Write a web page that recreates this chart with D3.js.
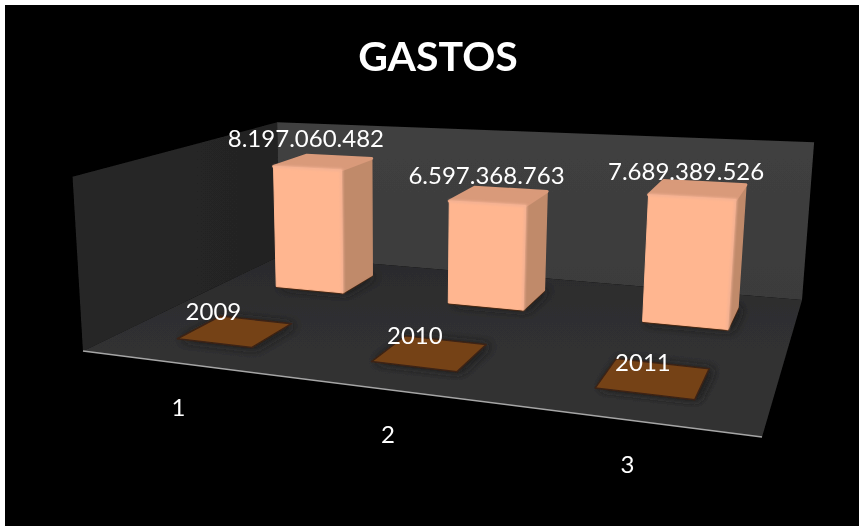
<!DOCTYPE html>
<html><head><meta charset="utf-8">
<style>html,body{margin:0;background:#000}svg{display:block}text{font-family:Lato,sans-serif;fill:#fff}</style>
<script src="https://cdn.jsdelivr.net/npm/d3@7"></script></head><body>
<script>
// ---- data ----
const title = "GASTOS";
const categories = [1, 2, 3];
const seriesNames = ["Año", "Gastos"];
const years = [2009, 2010, 2011];
const gastos = [8197060482, 6597368763, 7689389526];
const axisMax = 10000000000;
const fmt = v => d3.format(",")(v).replace(/,/g, ".");

// ---- layout ----
const W = 859, H = 526;
const floorCorners = [[83,351],[762,437],[802,300],[280,256]];
const topCorners = [[0,0,70,177],[0,1,280,119],[1,1,813,146]];
const valueNudge = [[-17.5,-23],[-12.5,-20],[-12,-18]];
const yearNudge = [[-22,-19],[-15,-17],[-10.5,-15]];
const catNudge = [[-57,77],[-42,82],[-26,87]];

function solve(A,b){const n=b.length;const M=A.map((r,i)=>[...r,b[i]]);
  for(let i=0;i<n;i++){let p=i;for(let k=i+1;k<n;k++)if(Math.abs(M[k][i])>Math.abs(M[p][i]))p=k;
    [M[i],M[p]]=[M[p],M[i]];
    for(let k=0;k<n;k++)if(k!=i){const f=M[k][i]/M[i][i];for(let j=i;j<=n;j++)M[k][j]-=f*M[i][j];}}
  return M.map((r,i)=>r[n]/r[i]);}
const A0=[],b0=[];
[[0,0],[1,0],[1,1],[0,1]].forEach(([u,v],i)=>{const[x,y]=floorCorners[i];
  A0.push([u,v,1,0,0,0,-u*x,-v*x]);b0.push(x);A0.push([0,0,0,u,v,1,-u*y,-v*y]);b0.push(y);});
const h=solve(A0,b0);
const B=[],c=[];
topCorners.forEach(([u,v,X,Y])=>{const hx=h[0]*u+h[1]*v+h[2],hy=h[3]*u+h[4]*v+h[5],hw=h[6]*u+h[7]*v+1;
  B.push([1,0,-X]);c.push(X*hw-hx);B.push([0,1,-Y]);c.push(Y*hw-hy);});
const Z=solve([0,1,2].map(i=>[0,1,2].map(j=>B.reduce((a,r)=>a+r[i]*r[j],0))),[0,1,2].map(i=>B.reduce((a,r,k)=>a+r[i]*c[k],0)));
function P(u,v,z){const w=h[6]*u+h[7]*v+1+Z[2]*z;
  return [(h[0]*u+h[1]*v+h[2]+Z[0]*z)/w,(h[3]*u+h[4]*v+h[5]+Z[1]*z)/w];}

const xS=d3.scaleBand().domain(categories).range([.004,1.004]).paddingInner(.6).paddingOuter(.3);
const dS=d3.scaleBand().domain(seriesNames).range([.004,1.03]).paddingInner(.6).paddingOuter(.3);
const yS=d3.scaleLinear().domain([0,axisMax]).range([0,1]);
const line=d3.line().curve(d3.curveLinearClosed);

const svg=d3.select("body").append("svg").attr("width",W).attr("height",H);
const defs=svg.append("defs");
[["soft",.45],["edge",.8],["shadow",5]].forEach(([id,s])=>defs.append("filter").attr("id",id)
  .attr("x","-30%").attr("y","-30%").attr("width","160%").attr("height","160%")
  .append("feGaussianBlur").attr("stdDeviation",s));
const grad=(id,x2,y2,stops)=>{const g=defs.append("linearGradient").attr("id",id).attr("x1",0).attr("y1",0).attr("x2",x2).attr("y2",y2);
  stops.forEach(([o,col])=>g.append("stop").attr("offset",o).attr("stop-color",col));};
grad("gLeft",1,0,[[0,"#282828"],[1,"#232323"]]);
grad("gBack",0,1,[[0,"#404040"],[1,"#3b3b3b"]]);
grad("gFloor",0,1,[[0,"#2b2b2c"],[.35,"#2f2f30"],[1,"#333333"]]);

svg.append("rect").attr("width",W).attr("height",H).attr("fill","#000");
svg.append("rect").attr("width",W).attr("height",5).attr("fill","#fff");
svg.append("rect").attr("width",5).attr("height",H).attr("fill","#fff");

const g=svg.append("g").attr("filter","url(#soft)");
g.append("path").attr("d",line([P(0,0,0),P(0,1,0),P(0,1,1),P(0,0,1)])).attr("fill","url(#gLeft)");
g.append("path").attr("d",line([P(0,1,0),P(1,1,0),P(1,1,1),P(0,1,1)])).attr("fill","url(#gBack)");
g.append("path").attr("d",line([P(0,0,0),P(1,0,0),P(1,1,0),P(0,1,0)])).attr("fill","url(#gFloor)");
g.append("path").attr("d",d3.line()([P(0,0,0),P(1,0,0)])).attr("stroke","#a6a6a6").attr("stroke-width",1.5).attr("fill","none");

function box(cat,serie,val){const u0=xS(cat),u1=u0+xS.bandwidth(),v0=dS(serie),v1=v0+dS.bandwidth(),z=yS(val);
  return {base:[P(u0,v0,0),P(u1,v0,0),P(u1,v1,0),P(u0,v1,0)],
    front:[P(u0,v0,0),P(u1,v0,0),P(u1,v0,z),P(u0,v0,z)],
    side:[P(u1,v0,0),P(u1,v1,0),P(u1,v1,z),P(u1,v0,z)],
    top:[P(u0,v0,z),P(u1,v0,z),P(u1,v1,z),P(u0,v1,z)]};}

// shadows on the floor
const all=[...years.map((v,i)=>[categories[i],seriesNames[0],v]),...gastos.map((v,i)=>[categories[i],seriesNames[1],v])];
g.append("g").selectAll("path").data(all).join("path")
  .attr("d",d=>line(box(...d).base.map(([x,y])=>[x+4,y+1])))
  .attr("fill","#1c1c1c").attr("filter","url(#shadow)");

// flat series
g.append("g").selectAll("path").data(years).join("path")
  .attr("d",(d,i)=>line(box(categories[i],seriesNames[0],d).top))
  .attr("fill","#754319").attr("stroke","#3c2412").attr("stroke-width",1.5).attr("stroke-linejoin","round");

// tall series
const bars=g.append("g").selectAll("g").data(gastos).join("g");
bars.each(function(d,i){const b=box(categories[i],seriesNames[1],d),s=d3.select(this);
  s.append("path").attr("d",d3.line()([b.front[0],b.front[1],b.side[1]])).attr("stroke","#4a2a14").attr("stroke-width",3).attr("fill","none").attr("stroke-linejoin","round");
  s.append("path").attr("d",line(b.side)).attr("fill","#c08a6b").attr("stroke","#c08a6b").attr("stroke-width",1.5).attr("stroke-linejoin","round");
  s.append("path").attr("d",line(b.top)).attr("fill","#d99a7a").attr("stroke","#d99a7a").attr("stroke-width",3).attr("stroke-linejoin","round");
  s.append("path").attr("d",line(b.front)).attr("fill","#ffb690").attr("stroke","#ffb690").attr("stroke-width",1).attr("stroke-linejoin","round");
  s.append("path").attr("d",d3.line()([b.front[3],b.front[2],b.front[1]])).attr("stroke","#f3b193").attr("stroke-width",2.5).attr("fill","none").attr("filter","url(#edge)");
});

// texts
const t=svg.append("g").attr("filter","url(#soft)");
t.append("text").attr("x",438).attr("y",71).attr("text-anchor","middle").attr("font-size",41).attr("font-weight",700).text(title);
const label=(data,f,nudge,v,z)=>t.append("g").selectAll("text").data(data).join("text")
  .attr("font-size",24).attr("text-anchor","middle")
  .attr("x",(d,i)=>P(xS(categories[i])+xS.bandwidth()/2,v(i),z(d))[0]+nudge[i][0])
  .attr("y",(d,i)=>P(xS(categories[i])+xS.bandwidth()/2,v(i),z(d))[1]+nudge[i][1]+8)
  .text(f);
label(gastos,fmt,valueNudge,()=>dS(seriesNames[1])+dS.bandwidth()/2,yS);
label(years,d=>d,yearNudge,()=>dS(seriesNames[0])+dS.bandwidth()/2,yS);
label(categories,d=>d,catNudge,()=>dS(seriesNames[0])+dS.bandwidth()/2,()=>0);
</script></body></html>
